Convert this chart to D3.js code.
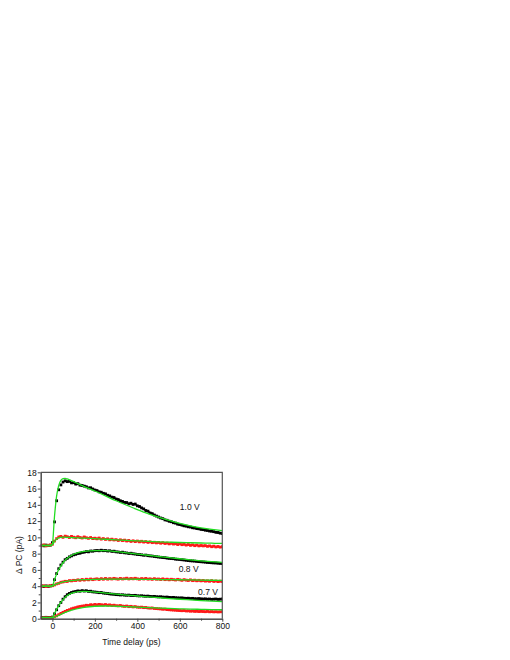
<!DOCTYPE html>
<html>
<head>
<meta charset="utf-8">
<script src="https://cdn.jsdelivr.net/npm/d3@7"></script>
<style>
  html, body { margin: 0; padding: 0; background: #fff; }
  svg { display: block; font-family: "Liberation Sans", Arial, sans-serif; }
</style>
</head>
<body>
<svg id="chart" width="510" height="660"></svg>
<script>
// measured samples, time delay in ps
const timePs = [-50, -40, -30, -20, -10, 0,
  10, 20, 30, 40, 50, 60, 70, 80, 90, 100,
  110, 120, 130, 140, 150, 160, 170, 180, 190, 200,
  210, 220, 230, 240, 250, 260, 270, 280, 290, 300,
  310, 320, 330, 340, 350, 360, 370, 380, 390, 400,
  410, 420, 430, 440, 450, 460, 470, 480, 490, 500,
  510, 520, 530, 540, 550, 560, 570, 580, 590, 600,
  610, 620, 630, 640, 650, 660, 670, 680, 690, 700,
  710, 720, 730, 740, 750, 760, 770, 780, 790, 800];

const black10 = [9.02, 8.96, 9.05, 8.99, 9.04, 9.35,
  11.9, 14.5, 15.85, 16.45, 16.8, 16.95, 16.85, 16.9, 16.7, 16.72,
  16.55, 16.6, 16.42, 16.38, 16.3, 16.22, 16.08, 16.1, 15.95, 15.82,
  15.75, 15.6, 15.55, 15.42, 15.35, 15.18, 15.1, 14.95, 14.9, 14.72,
  14.65, 14.5, 14.42, 14.3, 14.28, 14.12, 14.2, 14.05, 14.1, 13.88,
  13.8, 13.62, 13.5, 13.3, 13.22, 13.0, 12.92, 12.75, 12.62, 12.5,
  12.38, 12.3, 12.15, 12.1, 11.98, 11.92, 11.8, 11.75, 11.62, 11.58,
  11.5, 11.42, 11.38, 11.3, 11.27, 11.18, 11.15, 11.08, 11.05, 10.98,
  10.95, 10.88, 10.85, 10.78, 10.75, 10.7, 10.62, 10.6, 10.52, 10.48];

const red10 = [9.0, 9.08, 8.95, 9.02, 9.06, 9.15,
  9.55, 9.85, 10.05, 10.12, 10.0, 10.15, 10.08, 9.98, 10.12, 10.02,
  9.95, 10.08, 9.98, 9.92, 10.05, 9.95, 9.88, 9.98, 9.85, 9.9,
  9.82, 9.92, 9.78, 9.85, 9.75, 9.82, 9.7, 9.78, 9.68, 9.72,
  9.62, 9.7, 9.6, 9.66, 9.55, 9.62, 9.5, 9.58, 9.48, 9.55,
  9.45, 9.52, 9.42, 9.48, 9.38, 9.45, 9.35, 9.4, 9.32, 9.38,
  9.28, 9.35, 9.25, 9.3, 9.2, 9.27, 9.18, 9.22, 9.12, 9.2,
  9.1, 9.15, 9.05, 9.12, 9.02, 9.08, 8.98, 9.05, 8.95, 9.0,
  8.95, 8.98, 8.9, 8.95, 8.85, 8.92, 8.82, 8.88, 8.8, 8.85];

const black08 = [4.02, 3.97, 4.03, 3.98, 4.02, 4.1,
  4.8, 5.55, 6.15, 6.6, 6.95, 7.25, 7.42, 7.6, 7.72, 7.85,
  7.92, 8.02, 8.05, 8.15, 8.18, 8.25, 8.22, 8.32, 8.3, 8.36,
  8.38, 8.35, 8.42, 8.36, 8.38, 8.32, 8.35, 8.28, 8.3, 8.22,
  8.2, 8.15, 8.18, 8.1, 8.08, 8.02, 8.05, 7.98, 7.95, 7.9,
  7.88, 7.85, 7.8, 7.82, 7.75, 7.72, 7.7, 7.65, 7.62, 7.58,
  7.55, 7.52, 7.5, 7.45, 7.42, 7.4, 7.38, 7.32, 7.3, 7.28,
  7.25, 7.22, 7.18, 7.15, 7.12, 7.1, 7.08, 7.05, 7.02, 7.0,
  6.98, 6.95, 6.92, 6.9, 6.88, 6.86, 6.85, 6.82, 6.8, 6.78];

const red08 = [4.0, 4.05, 3.96, 4.02, 4.04, 4.05,
  4.15, 4.28, 4.35, 4.48, 4.52, 4.6, 4.58, 4.68, 4.65, 4.72,
  4.7, 4.78, 4.72, 4.82, 4.75, 4.85, 4.78, 4.88, 4.8, 4.86,
  4.9, 4.82, 4.92, 4.85, 4.95, 4.86, 4.92, 4.88, 4.96, 4.9,
  4.86, 4.95, 4.88, 4.92, 4.98, 4.88, 4.94, 4.9, 4.97, 4.9,
  4.85, 4.93, 4.88, 4.95, 4.86, 4.9, 4.84, 4.92, 4.85, 4.88,
  4.82, 4.9, 4.8, 4.86, 4.78, 4.85, 4.8, 4.76, 4.84, 4.78,
  4.72, 4.8, 4.74, 4.7, 4.78, 4.68, 4.74, 4.66, 4.72, 4.65,
  4.7, 4.62, 4.66, 4.6, 4.68, 4.58, 4.64, 4.56, 4.62, 4.58];

const black07 = [0.15, 0.12, 0.17, 0.14, 0.16, 0.2,
  0.6, 1.1, 1.6, 2.0, 2.4, 2.7, 2.95, 3.1, 3.22, 3.3,
  3.35, 3.42, 3.38, 3.45, 3.4, 3.44, 3.36, 3.38, 3.3, 3.28,
  3.25, 3.2, 3.22, 3.15, 3.12, 3.1, 3.05, 3.02, 3.0, 2.96,
  2.95, 2.92, 2.94, 2.9, 2.88, 2.9, 2.86, 2.85, 2.87, 2.82,
  2.8, 2.82, 2.78, 2.76, 2.78, 2.74, 2.72, 2.74, 2.7, 2.68,
  2.7, 2.66, 2.64, 2.66, 2.62, 2.6, 2.62, 2.58, 2.56, 2.55,
  2.56, 2.52, 2.5, 2.52, 2.48, 2.5, 2.46, 2.45, 2.47, 2.44,
  2.42, 2.44, 2.4, 2.42, 2.38, 2.4, 2.42, 2.38, 2.4, 2.42];

const red07 = [0.1, 0.08, 0.12, 0.09, 0.11, 0.1,
  0.22, 0.35, 0.5, 0.65, 0.78, 0.9, 1.02, 1.1, 1.22, 1.3,
  1.36, 1.45, 1.5, 1.55, 1.58, 1.65, 1.62, 1.72, 1.68, 1.75,
  1.7, 1.76, 1.72, 1.68, 1.74, 1.66, 1.7, 1.62, 1.66, 1.6,
  1.58, 1.62, 1.55, 1.52, 1.56, 1.48, 1.52, 1.45, 1.48, 1.42,
  1.4, 1.42, 1.36, 1.38, 1.32, 1.3, 1.32, 1.26, 1.24, 1.22,
  1.2, 1.16, 1.18, 1.12, 1.1, 1.08, 1.06, 1.04, 1.02, 1.0,
  0.98, 1.0, 0.95, 0.96, 0.92, 0.94, 0.9, 0.92, 0.88, 0.9,
  0.88, 0.86, 0.9, 0.85, 0.87, 0.84, 0.86, 0.83, 0.85, 0.86];

// fitted curves
const fitTimePs = [-50, -10, 0, 10, 20, 30, 40, 50, 60, 70, 80, 100, 125, 150,
  200, 250, 300, 350, 400, 450, 500, 550, 600, 650, 700, 750, 800];

const fitBlack10 = [9.0, 9.0, 9.2, 12.6, 15.1, 16.4, 17.0, 17.22, 17.25, 17.18, 17.08, 16.85, 16.55, 16.25,
  15.7, 15.1, 14.5, 13.95, 13.42, 12.92, 12.48, 12.08, 11.72, 11.42, 11.18, 10.98, 10.82];
const fitRed10 = [9.0, 9.0, 9.1, 9.5, 9.8, 9.95, 10.0, 10.02, 10.02, 10.0, 9.99, 9.96, 9.93, 9.9,
  9.84, 9.77, 9.7, 9.63, 9.56, 9.5, 9.45, 9.41, 9.37, 9.34, 9.31, 9.28, 9.25];
const fitBlack08 = [4.0, 4.0, 4.05, 4.8, 5.5, 6.05, 6.5, 6.88, 7.18, 7.42, 7.62, 7.92, 8.15, 8.28,
  8.38, 8.36, 8.25, 8.1, 7.95, 7.8, 7.65, 7.5, 7.37, 7.24, 7.12, 7.02, 6.93];
const fitRed08 = [4.0, 4.0, 4.02, 4.15, 4.27, 4.37, 4.45, 4.52, 4.57, 4.62, 4.66, 4.72, 4.77, 4.8,
  4.84, 4.86, 4.86, 4.86, 4.85, 4.84, 4.82, 4.81, 4.79, 4.77, 4.75, 4.73, 4.71];
const fitBlack07 = [0.15, 0.15, 0.18, 0.65, 1.15, 1.6, 2.0, 2.35, 2.62, 2.85, 3.0, 3.2, 3.33, 3.36,
  3.28, 3.15, 3.02, 2.9, 2.79, 2.68, 2.58, 2.48, 2.39, 2.31, 2.23, 2.16, 2.1];
const fitRed07 = [0.1, 0.1, 0.1, 0.2, 0.3, 0.42, 0.54, 0.66, 0.77, 0.87, 0.96, 1.12, 1.28, 1.4,
  1.53, 1.56, 1.53, 1.48, 1.42, 1.36, 1.31, 1.26, 1.22, 1.18, 1.15, 1.12, 1.1];

const xTicks = [0, 200, 400, 600, 800];
const xMinorTicks = [100, 300, 500, 700];
const yTicks = [0, 2, 4, 6, 8, 10, 12, 14, 16, 18];
const yMinorTicks = [1, 3, 5, 7, 9, 11, 13, 15, 17];

const voltageLabels = ["1.0 V", "0.8 V", "0.7 V"];

(function () {
  const svg = d3.select("#chart");
  const left = 40.7, right = 222.3, top = 472.3, bottom = 618.7;
  const fontSize = "8.5px";

  const x = d3.scaleLinear().domain([-55, 800]).range([left, right]);
  const y = d3.scaleLinear().domain([0, 18]).range([bottom, top]);

  svg.append("defs").append("clipPath").attr("id", "plotClip")
    .append("rect")
    .attr("x", left).attr("y", top)
    .attr("width", right - left).attr("height", bottom - top);

  const plot = svg.append("g").attr("clip-path", "url(#plotClip)");

  // ---------- data dots ----------
  const dotSets = [
    { values: black10, color: "#000" },
    { values: red10, color: "#ff1a1a" },
    { values: black08, color: "#000" },
    { values: red08, color: "#ff1a1a" },
    { values: black07, color: "#000" },
    { values: red07, color: "#ff1a1a" }
  ];
  const dotSize = 2.8;

  // thin trace under the dots so the dense part reads as a band,
  // left open over the fast rise where single dots show
  const trace = d3.line()
    .defined(d => d[0] < 0 || d[0] >= 60)
    .x(d => x(d[0]))
    .y(d => y(d[1]));

  dotSets.forEach(set => {
    const pts = set.values.map((v, i) => [timePs[i], v]);

    plot.append("path")
      .datum(pts)
      .attr("fill", "none")
      .attr("stroke", set.color)
      .attr("stroke-width", 1.6)
      .attr("d", trace);

    plot.append("g")
      .selectAll("rect")
      .data(pts)
      .join("rect")
      .attr("x", d => x(d[0]) - dotSize / 2)
      .attr("y", d => y(d[1]) - dotSize / 2)
      .attr("width", dotSize)
      .attr("height", dotSize)
      .attr("fill", set.color);
  });

  // ---------- fit lines ----------
  const line = d3.line()
    .x(d => x(d[0]))
    .y(d => y(d[1]))
    .curve(d3.curveMonotoneX);

  [fitBlack10, fitRed10, fitBlack08, fitRed08, fitBlack07, fitRed07].forEach(fit => {
    plot.append("path")
      .datum(fit.map((v, i) => [fitTimePs[i], v]))
      .attr("fill", "none")
      .attr("stroke", "#22dd22")
      .attr("stroke-width", 1.3)
      .attr("d", line);
  });

  // ---------- axes ----------
  function styleAxis(g) {
    g.selectAll(".domain").attr("stroke", "#444");
    g.selectAll(".tick line").attr("stroke", "#444");
    g.selectAll("text")
      .style("font-size", fontSize)
      .attr("fill", "#111");
  }

  svg.append("g")
    .attr("transform", `translate(0,${bottom})`)
    .call(d3.axisBottom(x).tickValues(xTicks).tickSize(3).tickSizeOuter(0).tickPadding(1))
    .call(styleAxis);

  svg.append("g")
    .attr("transform", `translate(0,${bottom})`)
    .call(d3.axisBottom(x).tickValues(xMinorTicks).tickSize(2).tickSizeOuter(0).tickFormat(""))
    .call(styleAxis);

  svg.append("g")
    .attr("transform", `translate(${left},0)`)
    .call(d3.axisLeft(y).tickValues(yTicks).tickSize(3).tickSizeOuter(0).tickPadding(1))
    .call(styleAxis);

  svg.append("g")
    .attr("transform", `translate(${left},0)`)
    .call(d3.axisLeft(y).tickValues(yMinorTicks).tickSize(2).tickSizeOuter(0).tickFormat(""))
    .call(styleAxis);

  // top and right frame
  svg.append("path")
    .attr("d", `M${left},${top}H${right}V${bottom}`)
    .attr("fill", "none")
    .attr("stroke", "#555")
    .attr("stroke-width", 1.2);

  // ---------- axis titles ----------
  svg.append("text")
    .attr("x", (left + right) / 2)
    .attr("y", 645)
    .attr("text-anchor", "middle")
    .style("font-size", fontSize)
    .attr("fill", "#111")
    .text("Time delay (ps)");

  svg.append("text")
    .attr("transform", `translate(22,555) rotate(-90)`)
    .attr("text-anchor", "middle")
    .style("font-size", fontSize)
    .attr("fill", "#111")
    .text("\u0394 PC (pA)");

  // ---------- voltage labels ----------
  const labelAt = [[600, 13.4], [595, 5.75], [686, 2.9]];
  svg.selectAll("text.volt")
    .data(voltageLabels)
    .join("text")
    .attr("class", "volt")
    .attr("x", (d, i) => x(labelAt[i][0]))
    .attr("y", (d, i) => y(labelAt[i][1]))
    .style("font-size", fontSize)
    .attr("fill", "#111")
    .text(d => d);
})();
</script>
</body>
</html>
